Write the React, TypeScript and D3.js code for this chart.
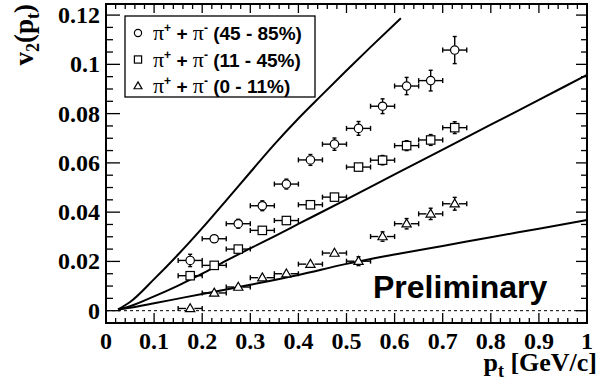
import { useMemo } from "react";
import * as d3 from "d3";

// pt bin centres shared by all three centrality classes
const ptBins = [0.175, 0.225, 0.275, 0.325, 0.375, 0.425, 0.475, 0.525, 0.575, 0.625, 0.675, 0.725];
const ptHalfWidth = 0.025;

const v2Peripheral = [0.0204, 0.0292, 0.0353, 0.0426, 0.0514, 0.0612, 0.0676, 0.074, 0.083, 0.0912, 0.0934, 0.1058];
const errPeripheral = [0.0025, 0.0016, 0.0018, 0.002, 0.002, 0.0022, 0.0025, 0.0028, 0.003, 0.0035, 0.0042, 0.0055];

const v2MidCentral = [0.0142, 0.0184, 0.025, 0.0326, 0.0366, 0.043, 0.0461, 0.0583, 0.0611, 0.067, 0.0693, 0.0743];
const errMidCentral = [0.0012, 0.0012, 0.0013, 0.0014, 0.0014, 0.0015, 0.0016, 0.0017, 0.0019, 0.002, 0.0022, 0.0024];

const v2Central = [0.0009, 0.0072, 0.0096, 0.0134, 0.015, 0.0189, 0.0234, 0.0201, 0.0301, 0.0353, 0.0393, 0.0434];
const errCentral = [0.0012, 0.0012, 0.0013, 0.0014, 0.0015, 0.0016, 0.0017, 0.0018, 0.0019, 0.0021, 0.0023, 0.0026];

// model curves
const curveSteepPt = [0.025, 0.05, 0.1, 0.15, 0.2, 0.25, 0.3, 0.35, 0.4, 0.45, 0.5, 0.55, 0.613];
const curveSteepV2 = [0.0005, 0.0035, 0.0128, 0.0228, 0.0335, 0.0448, 0.0562, 0.0675, 0.078, 0.0878, 0.0975, 0.107, 0.1187];

const curveMidPt = [0.025, 0.05, 0.1, 0.15, 0.2, 0.25, 0.3, 0.35, 0.4, 0.5, 0.6, 0.7, 0.8, 0.9, 1.0];
const curveMidV2 = [0.0005, 0.0018, 0.0058, 0.0102, 0.015, 0.0203, 0.0253, 0.0302, 0.0352, 0.0452, 0.0553, 0.0654, 0.0755, 0.0856, 0.0957];

const curveLowPt = [0.025, 0.05, 0.1, 0.15, 0.2, 0.25, 0.3, 0.4, 0.5, 0.6, 0.7, 0.8, 0.9, 1.0];
const curveLowV2 = [0.0005, 0.0012, 0.003, 0.0049, 0.0068, 0.0086, 0.0105, 0.0145, 0.019, 0.0228, 0.0263, 0.0298, 0.0333, 0.0368];

const xTicks = [0, 0.1, 0.2, 0.3, 0.4, 0.5, 0.6, 0.7, 0.8, 0.9, 1];
const xTickLabels = ["0", "0.1", "0.2", "0.3", "0.4", "0.5", "0.6", "0.7", "0.8", "0.9", "1"];
const yTicks = [0, 0.02, 0.04, 0.06, 0.08, 0.1, 0.12];
const yTickLabels = ["0", "0.02", "0.04", "0.06", "0.08", "0.1", "0.12"];

const legendLabels = ["(45 - 85%)", "(11 - 45%)", "(0 - 11%)"];

const W = 599;
const H = 389;
const frame = { left: 106, right: 587, top: 4, bottom: 323 };

type Shape = "circle" | "square" | "triangle";

function Marker({ shape, x, y, s }: { shape: Shape; x: number; y: number; s: number }) {
  if (shape === "circle") return <circle cx={x} cy={y} r={s} fill="white" stroke="black" strokeWidth={1.2} />;
  if (shape === "square")
    return <rect x={x - s} y={y - s} width={2 * s} height={2 * s} fill="white" stroke="black" strokeWidth={1.2} />;
  const h = s * 1.9;
  return (
    <path
      d={`M${x},${y - h * 0.6} L${x + s * 1.1},${y + h * 0.4} L${x - s * 1.1},${y + h * 0.4} Z`}
      fill="white"
      stroke="black"
      strokeWidth={1.2}
    />
  );
}

export default function App() {
  const x = useMemo(() => d3.scaleLinear().domain([0, 1]).range([frame.left, frame.right]), []);
  const y = useMemo(() => d3.scaleLinear().domain([-0.005, 0.1245]).range([frame.bottom, frame.top]), []);

  const line = d3
    .line<[number, number]>()
    .x((d) => x(d[0]))
    .y((d) => y(d[1]))
    .curve(d3.curveMonotoneX);

  const curves = [
    d3.zip(curveSteepPt, curveSteepV2) as [number, number][],
    d3.zip(curveMidPt, curveMidV2) as [number, number][],
    d3.zip(curveLowPt, curveLowV2) as [number, number][],
  ];

  const series: { shape: Shape; v: number[]; e: number[] }[] = [
    { shape: "circle", v: v2Peripheral, e: errPeripheral },
    { shape: "square", v: v2MidCentral, e: errMidCentral },
    { shape: "triangle", v: v2Central, e: errCentral },
  ];

  const xMinor = d3.range(0, 1.0001, 0.02).filter((t) => Math.abs(Math.round(t * 10) - t * 10) > 1e-6);
  const yMinor = d3.range(0, 0.1245, 0.005).filter((t) => Math.abs(Math.round(t * 50) - t * 50) > 1e-6);

  const serif = "'Liberation Serif', 'Times New Roman', serif";
  const sans = "'Liberation Sans', Arial, sans-serif";
  const ms = 4.2;

  return (
    <div style={{ position: "absolute", left: 0, top: 0 }}>
      <svg width={W} height={H} style={{ display: "block", background: "white" }}>
        {/* zero line */}
        <line
          x1={frame.left}
          x2={frame.right}
          y1={y(0)}
          y2={y(0)}
          stroke="black"
          strokeWidth={1}
          strokeDasharray="3,3"
        />

        {/* model curves */}
        {curves.map((c, i) => (
          <path key={i} d={line(c) as string} fill="none" stroke="black" strokeWidth={2} />
        ))}

        {/* data with error bars */}
        {series.map((s) =>
          ptBins.map((pt, i) => {
            const cx = x(pt);
            const cy = y(s.v[i]);
            const xl = x(pt - ptHalfWidth);
            const xr = x(pt + ptHalfWidth);
            const yt = y(s.v[i] + s.e[i]);
            const yb = y(s.v[i] - s.e[i]);
            return (
              <g key={s.shape + i} stroke="black" strokeWidth={1.4}>
                <line x1={xl} x2={cx - ms} y1={cy} y2={cy} />
                <line x1={cx + ms} x2={xr} y1={cy} y2={cy} />
                <line x1={xl} x2={xl} y1={cy - 2.5} y2={cy + 2.5} />
                <line x1={xr} x2={xr} y1={cy - 2.5} y2={cy + 2.5} />
                {yt < cy - ms && <line x1={cx} x2={cx} y1={yt} y2={cy - ms} />}
                {yb > cy + ms && <line x1={cx} x2={cx} y1={cy + ms} y2={yb} />}
                {yt < cy - ms && <line x1={cx - 2} x2={cx + 2} y1={yt} y2={yt} />}
                {yb > cy + ms && <line x1={cx - 2} x2={cx + 2} y1={yb} y2={yb} />}
                <Marker shape={s.shape} x={cx} y={cy} s={ms} />
              </g>
            );
          })
        )}

        {/* frame */}
        <rect
          x={frame.left}
          y={frame.top}
          width={frame.right - frame.left}
          height={frame.bottom - frame.top}
          fill="none"
          stroke="black"
          strokeWidth={2}
        />

        {/* x ticks, bottom and top */}
        <g stroke="black" strokeWidth={1.3}>
          {xTicks.map((t) => (
            <g key={"xt" + t}>
              <line x1={x(t)} x2={x(t)} y1={frame.bottom} y2={frame.bottom - 10} />
              <line x1={x(t)} x2={x(t)} y1={frame.top} y2={frame.top + 9} />
            </g>
          ))}
          {xMinor.map((t) => (
            <g key={"xm" + t}>
              <line x1={x(t)} x2={x(t)} y1={frame.bottom} y2={frame.bottom - 5} />
              <line x1={x(t)} x2={x(t)} y1={frame.top} y2={frame.top + 5} />
            </g>
          ))}
          {yTicks.map((t) => (
            <g key={"yt" + t}>
              <line x1={frame.left} x2={frame.left + 14} y1={y(t)} y2={y(t)} />
              <line x1={frame.right} x2={frame.right - 11} y1={y(t)} y2={y(t)} />
            </g>
          ))}
          {yMinor.map((t) => (
            <g key={"ym" + t}>
              <line x1={frame.left} x2={frame.left + 7} y1={y(t)} y2={y(t)} />
              <line x1={frame.right} x2={frame.right - 6} y1={y(t)} y2={y(t)} />
            </g>
          ))}
        </g>

        {/* tick labels */}
        <g fontFamily={serif} fontWeight="bold" fontSize={24} fill="black">
          {xTicks.map((t, i) => (
            <text key={"xl" + t} x={x(t)} y={349} textAnchor="middle">
              {xTickLabels[i]}
            </text>
          ))}
          {yTicks.map((t, i) => (
            <text key={"yl" + t} x={100} y={y(t) + 8} textAnchor="end">
              {yTickLabels[i]}
            </text>
          ))}
        </g>

        {/* axis titles */}
        <text x={597} y={371} textAnchor="end" fontFamily={serif} fontWeight="bold" fontSize={26}>
          p<tspan fontSize={18} dy={6}>t</tspan>
          <tspan dy={-6}> [GeV/c]</tspan>
        </text>
        <text
          transform="translate(33,4) rotate(-90)"
          textAnchor="end"
          fontFamily={serif}
          fontWeight="bold"
          fontSize={27}
        >
          v<tspan fontSize={18} dy={6}>2</tspan>
          <tspan dy={-6}>(p</tspan>
          <tspan fontSize={18} dy={6}>t</tspan>
          <tspan dy={-6}>)</tspan>
        </text>

        {/* legend */}
        <rect x={125} y={16} width={190} height={81} fill="white" stroke="black" strokeWidth={1.3} />
        {legendLabels.map((lab, i) => {
          const ly = 33 + i * 26.5;
          const shape = series[i].shape;
          return (
            <g key={lab}>
              <Marker shape={shape} x={138} y={ly} s={3.6} />
              <text x={153} y={ly + 7} fontSize={19} fontFamily={sans} fontWeight="bold">
                <tspan fontFamily={serif} fontWeight="normal" fontSize={22}>π</tspan>
                <tspan fontSize={12} dy={-8}>+</tspan>
                <tspan dy={8}> + </tspan>
                <tspan fontFamily={serif} fontWeight="normal" fontSize={22}>π</tspan>
                <tspan fontSize={12} dy={-8}>-</tspan>
                <tspan dy={8}> {lab}</tspan>
              </text>
            </g>
          );
        })}

        <text x={373} y={298} fontFamily={sans} fontWeight="bold" fontSize={32}>
          Preliminary
        </text>
      </svg>
    </div>
  );
}
